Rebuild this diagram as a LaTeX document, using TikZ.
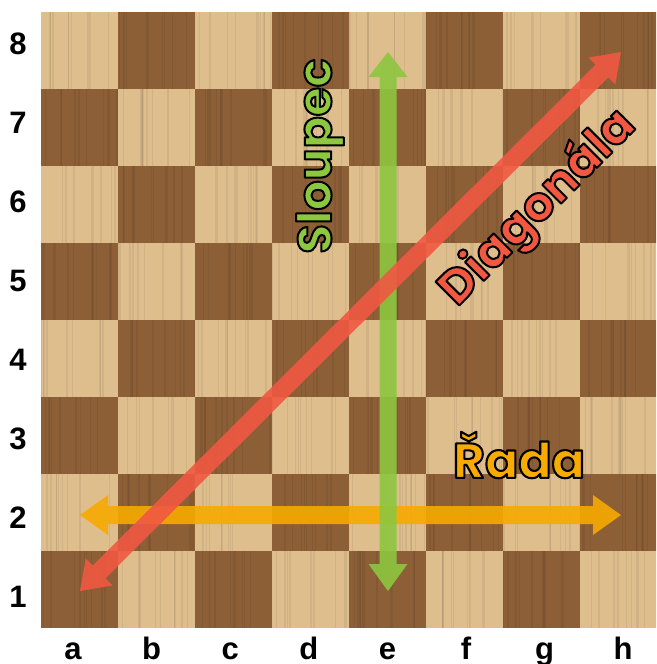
\documentclass[tikz,border=0pt]{standalone}
\usepackage{fontspec}
\setmainfont{Liberation Sans}
\newfontfamily\labfont{Poppins}
\newcommand{\outlinedword}[2]{{\color{#1}\special{pdf:literal direct 0 G 1.7 w 1 j 2 Tr}#2\special{pdf:literal direct 0 Tr}}}
\definecolor{lightwood}{RGB}{223,190,141}
\definecolor{darkwood}{RGB}{140,95,55}
\definecolor{arrgreen}{RGB}{141,198,63}
\definecolor{arrorange}{RGB}{247,170,0}
\definecolor{arrred}{RGB}{240,88,66}
\tikzset{
  lightsq/.style={fill=lightwood},
  darksq/.style={fill=darkwood},
  grain/.style={draw=black, draw opacity=0.06},
  arrowshape/.style={draw=none, fill opacity=0.9},
  coordlabel/.style={inner sep=0pt, font=\fontsize{31}{31}\selectfont\bfseries},
  bigword/.style={inner sep=0pt, font=\labfont\bfseries\fontsize{40}{40}\selectfont},
}
\begin{document}
\begin{tikzpicture}[x=1pt,y=-1pt]
\useasboundingbox (0,0) rectangle (656,664);
\fill[white] (0,0) rectangle (656,664);
\begin{scope}
\clip (41,12) rectangle (656,628);
\pgfmathsetseed{7}
\foreach \i in {0,...,7}{
  \foreach \j in {0,...,7}{
    \pgfmathtruncatemacro{\sqpar}{mod(\i+\j,2)}
    \ifnum\sqpar=0
      \fill[lightsq] ({41+77*\i},{12+77*\j}) rectangle ++(77,77);
    \else
      \fill[darksq] ({41+77*\i},{12+77*\j}) rectangle ++(77,77);
    \fi
    \foreach \k in {1,...,9}{
      \pgfmathsetmacro{\gx}{41+77*\i+77*rnd}
      \pgfmathsetmacro{\gw}{0.4+2*rnd}
      \draw[grain, line width=\gw pt] (\gx,{12+77*\j}) -- (\gx,{12+77*\j+77});
    }
  }
}
\end{scope}
% orange row arrow
\fill[arrowshape, fill=arrorange] (80,515) -- (108,495) -- (108,506) -- (593,506) -- (593,495) -- (621,515) -- (593,535) -- (593,524) -- (108,524) -- (108,535) -- cycle;
% green column arrow
\fill[arrowshape, fill=arrgreen] (388,52) -- (407.5,77) -- (396.5,77) -- (396.5,564) -- (407.5,564) -- (388,591) -- (368.5,564) -- (379.5,564) -- (379.5,77) -- (368.5,77) -- cycle;
% red diagonal arrow
\fill[arrowshape, fill=arrred] (80,591) -- (112.54,585.40) -- (105.48,578.32) -- (608.22,77.44) -- (615.28,84.52) -- (621,52) -- (588.46,57.60) -- (595.52,64.68) -- (92.78,565.56) -- (85.72,558.48) -- cycle;
% words
\node[bigword, rotate=90] (sloupec) at (320,156) {\resizebox{195pt}{!}{\outlinedword{arrgreen}{Sloupec}}};
\node[bigword, rotate=45] (diag) at (538,208) {\resizebox{255pt}{!}{\outlinedword{arrred}{Diagonála}}};
\node[bigword] (rada) at (519,455) {\resizebox{132pt}{!}{\outlinedword{arrorange}{Řada}}};
% rank labels
\foreach \r in {1,...,8}{
  \node[coordlabel] (rank\r) at (18,{43.5+79*(8-\r)}) {\r};
}
% file labels
\foreach \f [count=\n from 0] in {a,b,c,d,e,f,g,h}{
  \node[coordlabel, anchor=base] (file\f) at ({73+78.6*\n},659) {\f};
}
\end{tikzpicture}
\end{document}
